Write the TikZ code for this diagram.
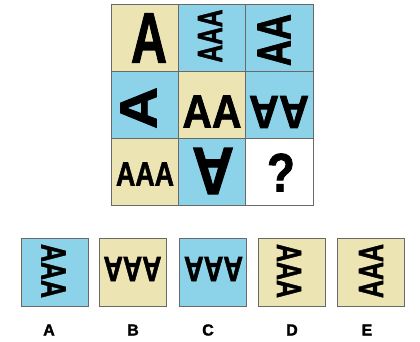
\documentclass[tikz,border=0pt]{standalone}
\usepackage{fontspec}
\setmainfont{Liberation Sans}[BoldFeatures={FakeBold=1.6}]
\usepackage{graphicx}
\definecolor{cblue}{RGB}{140,210,232}
\definecolor{ctan}{RGB}{236,228,178}
\definecolor{cline}{RGB}{105,105,105}
\newcommand{\gl}[3]{\resizebox{#1pt}{#2pt}{\bfseries #3}}
\tikzset{
  cell/.style={draw=cline, line width=0.8pt, minimum width=67.3pt, minimum height=67pt, inner sep=0pt, outer sep=0pt, anchor=north west},
  abox/.style={draw=cline, line width=0.8pt, minimum width=67pt, minimum height=68pt, inner sep=0pt, outer sep=0pt, anchor=north west},
  glyph/.style={inner sep=0pt, outer sep=0pt},
  lab/.style={inner sep=0pt, font=\bfseries\fontsize{16}{16}\selectfont}
}
\begin{document}
\begin{tikzpicture}[x=1pt,y=-1pt]
\useasboundingbox (0,0) rectangle (420,341);
\fill[white] (0,0) rectangle (420,341);
% grid cells
\node[cell, fill=ctan]  (c11) at (111,4) {};
\node[cell, fill=cblue] (c12) at (178.3,4) {};
\node[cell, fill=cblue] (c13) at (245.6,4) {};
\node[cell, fill=cblue] (c21) at (111,71) {};
\node[cell, fill=ctan]  (c22) at (178.3,71) {};
\node[cell, fill=cblue] (c23) at (245.6,71) {};
\node[cell, fill=ctan]  (c31) at (111,138) {};
\node[cell, fill=cblue] (c32) at (178.3,138) {};
\node[cell, fill=white] (c33) at (245.6,138) {};
% glyphs
\node[glyph] (g11) at (149,38) {\gl{36}{49}{A}};
\node[glyph, rotate=90] (g12) at (210,36) {\gl{53}{24}{AAA}};
\node[glyph, rotate=90] (g13) at (274,40) {\gl{52}{33}{AA}};
\node[glyph, rotate=90] (g21) at (138.5,108) {\gl{42}{36}{A}};
\node[glyph] (g22) at (212,111.5) {\gl{59}{32}{AA}};
\node[glyph, rotate=180] (g23) at (279,112) {\gl{60}{32}{AA}};
\node[glyph] (g31) at (145,174) {\gl{58}{23}{AAA}};
\node[glyph, rotate=180] (g32) at (213,171) {\gl{42}{46}{A}};
\node[glyph] (q) at (281,172.5) {\gl{28}{38}{?}};
% answers
\node[abox, fill=cblue] (bA) at (21,238) {};
\node[abox, fill=ctan]  (bB) at (99,238) {};
\node[abox, fill=cblue] (bC) at (179,238) {};
\node[abox, fill=ctan]  (bD) at (258,238) {};
\node[abox, fill=ctan]  (bE) at (337,238) {};
\node[glyph, rotate=-90] (aA) at (53.5,271) {\gl{54}{24}{AAA}};
\node[glyph, rotate=180] (aB) at (132.5,269) {\gl{58}{24}{AAA}};
\node[glyph, rotate=180] (aC) at (213.5,269) {\gl{59}{24}{AAA}};
\node[glyph, rotate=-90] (aD) at (289,271) {\gl{54}{24}{AAA}};
\node[glyph, rotate=90] (aE) at (371,271) {\gl{54}{24}{AAA}};
% labels
\node[lab] (lA) at (49,330) {A};
\node[lab] (lB) at (133,330) {B};
\node[lab] (lC) at (208,330) {C};
\node[lab] (lD) at (292,330) {D};
\node[lab] (lE) at (367,330) {E};
\end{tikzpicture}
\end{document}
